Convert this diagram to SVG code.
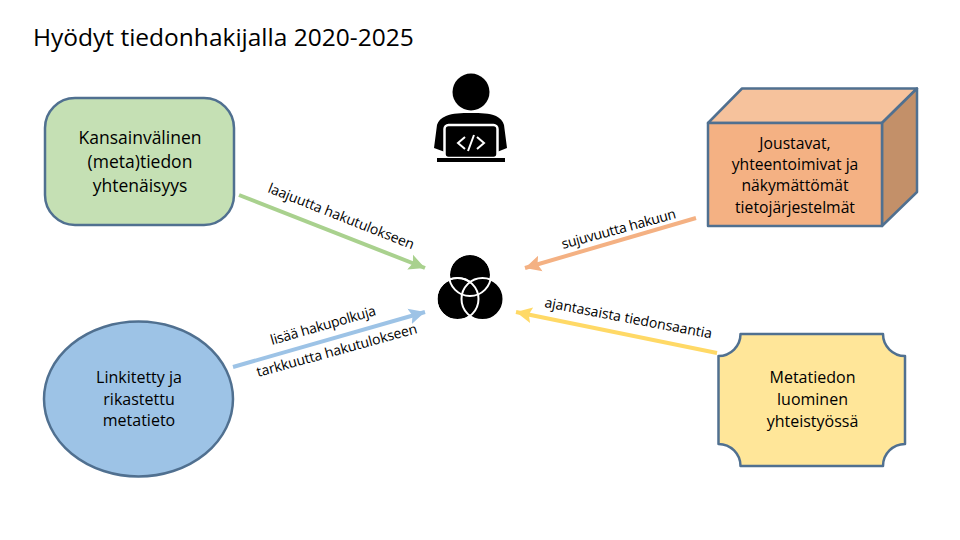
<svg xmlns="http://www.w3.org/2000/svg" width="960" height="540" viewBox="0 0 960 540">
<style>
text{font-family:"Open Sans","Liberation Sans",sans-serif;fill:#000}
.t{font-size:16px;text-anchor:middle;font-weight:500}
.g{font-size:17.5px;text-anchor:middle}
.q{font-size:15.7px;text-anchor:middle;font-weight:500}
.l{font-size:14px}
.s{stroke:#507090;stroke-width:2.5;stroke-linejoin:round}
.c{fill:none;stroke-width:4}
</style>
<defs>
<marker id="mg" markerUnits="userSpaceOnUse" markerWidth="20" markerHeight="18" refX="16" refY="9" orient="auto"><path d="M0 1L16 9L0 17L3 9Z" fill="#A9D18E"/></marker>
<marker id="mb" markerUnits="userSpaceOnUse" markerWidth="20" markerHeight="18" refX="16" refY="9" orient="auto"><path d="M0 1L16 9L0 17L3 9Z" fill="#9DC3E6"/></marker>
<marker id="mo" markerUnits="userSpaceOnUse" markerWidth="20" markerHeight="18" refX="16" refY="9" orient="auto"><path d="M0 1L16 9L0 17L3 9Z" fill="#F4B183"/></marker>
<marker id="my" markerUnits="userSpaceOnUse" markerWidth="20" markerHeight="18" refX="16" refY="9" orient="auto"><path d="M0 1L16 9L0 17L3 9Z" fill="#FFD966"/></marker>
</defs>
<rect width="960" height="540" fill="#fff"/>
<text id="title" x="33" y="46" font-size="24.500">Hyödyt tiedonhakijalla 2020-2025</text>
<g id="connectors">
<path class="c" stroke="#A9D18E" marker-end="url(#mg)" d="M239 195L425 268"/>
<path class="c" stroke="#9DC3E6" marker-end="url(#mb)" d="M233 367L425 312"/>
<path class="c" stroke="#F4B183" marker-end="url(#mo)" d="M696 218L525 268"/>
<path class="c" stroke="#FFD966" marker-end="url(#my)" d="M717 353L516 312"/>
</g>
<g id="labels">
<text class="l" transform="translate(267 192) rotate(21.600)" textLength="156">laajuutta hakutulokseen</text>
<text class="l" transform="translate(272 345) rotate(-16)" textLength="109">lisää hakupolkuja</text>
<text class="l" transform="translate(258 377) rotate(-15.400)" textLength="166">tarkkuutta hakutulokseen</text>
<text class="l" transform="translate(563 249) rotate(-15.200)" textLength="118">sujuvuutta hakuun</text>
<text class="l" transform="translate(544 307) rotate(10.700)" textLength="170">ajantasaista tiedonsaantia</text>
</g>
<g id="node-green">
<rect class="s" x="45" y="98" width="189" height="127" rx="30" fill="#C5E0B4"/>
<text class="g" x="140" y="144">Kansainvälinen</text>
<text class="g" x="140" y="168">(meta)tiedon</text>
<text class="g" x="140" y="192">yhtenäisyys</text>
</g>
<g id="node-blue">
<ellipse class="s" cx="138.500" cy="399" rx="94.500" ry="77.500" fill="#9DC3E6"/>
<text class="t" x="139" y="383">Linkitetty ja</text>
<text class="t" x="139" y="405">rikastettu</text>
<text class="t" x="139" y="426">metatieto</text>
</g>
<g id="node-person">
<circle cx="471" cy="92" r="18.500" fill="#000"/>
<path d="M471 113C461 113 453 113 446 116C441 118 438 121 437 125L434 148L445 152H497L507 148L504 125C503 121 500 118 496 116C489 113 481 113 471 113Z" fill="#000"/>
<rect x="444.500" y="125" width="53" height="33" rx="4" fill="#000" stroke="#fff" stroke-width="2.500"/>
<rect x="437" y="158" width="68" height="4" fill="#000"/>
<path d="M465 137L458 143L465 149M477 137L484 143L477 149M474 135L468 151" fill="none" stroke="#fff" stroke-width="2"/>
</g>
<g id="node-venn">
<g fill="#000" stroke="#fff" stroke-width="2">
<circle cx="470" cy="275" r="21"/>
<circle cx="457.500" cy="299" r="21"/>
<circle cx="482.500" cy="299" r="21"/>
</g>
<circle cx="470" cy="275" r="21" fill="none" stroke="#fff" stroke-width="2"/>
<circle cx="457.500" cy="299" r="21" fill="none" stroke="#fff" stroke-width="2"/>
</g>
<g id="node-cube">
<path class="s" d="M708 123L742 88.500H917L882 123Z" fill="#F6C29C"/>
<path class="s" d="M882 123L917 88.500V192L882 226Z" fill="#C39069"/>
<rect class="s" x="708" y="123" width="174" height="103" fill="#F4B183"/>
<text class="q" x="795" y="149">Joustavat,</text>
<text class="q" x="795" y="170">yhteentoimivat ja</text>
<text class="q" x="795" y="191">näkymättömät</text>
<text class="q" x="795" y="213">tietojärjestelmät</text>
</g>
<g id="node-yellow">
<path class="s" d="M740.500 334H883A22 22 0 0 0 905 356V444A22 22 0 0 0 883 466H740.500A22 22 0 0 0 718.500 444V356A22 22 0 0 0 740.500 334Z" fill="#FFE699"/>
<text class="t" x="812.500" y="383">Metatiedon</text>
<text class="t" x="812.500" y="405">luominen</text>
<text class="t" x="812.500" y="427">yhteistyössä</text>
</g>
</svg>
